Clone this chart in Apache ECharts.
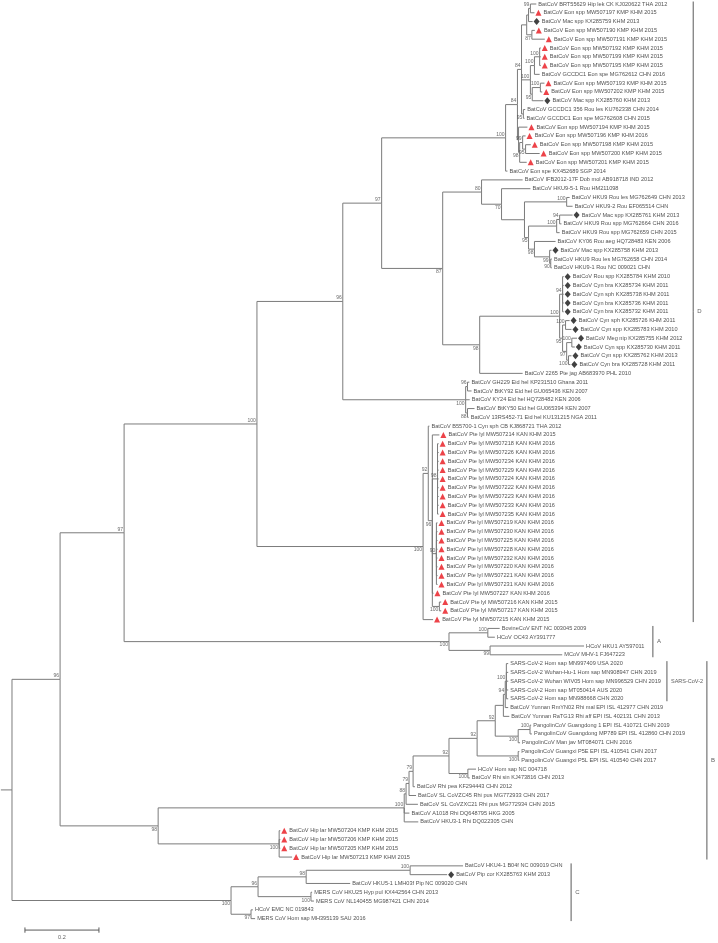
<!DOCTYPE html>
<html>
<head>
<meta charset="utf-8">
<script src="https://cdn.jsdelivr.net/npm/echarts@6/dist/echarts.min.js"></script>
<style>
html, body { margin: 0; padding: 0; background: #fff; }
#main { width: 718px; height: 943px; }
</style>
</head>
<body>
<div id="main"></div>
<script>
// tip labels, top to bottom
const tipNames = [
    'BatCoV BRT55629 Hip lek CK KJ020622 THA 2012',
    'BatCoV Eon spp MW507197 KMP KHM 2015',
    'BatCoV Mac spp KX285759 KHM 2013',
    'BatCoV Eon spp MW507190 KMP KHM 2015',
    'BatCoV Eon spp MW507191 KMP KHM 2015',
    'BatCoV Eon spp MW507192 KMP KHM 2015',
    'BatCoV Eon spp MW507199 KMP KHM 2015',
    'BatCoV Eon spp MW507195 KMP KHM 2015',
    'BatCoV GCCDC1 Eon spe MG762612 CHN 2016',
    'BatCoV Eon spp MW507193 KMP KHM 2015',
    'BatCoV Eon spp MW507202 KMP KHM 2015',
    'BatCoV Mac spp KX285760 KHM 2013',
    'BatCoV GCCDC1 356 Rou les KU762338 CHN 2014',
    'BatCoV GCCDC1 Eon spe MG762608 CHN 2015',
    'BatCoV Eon spp MW507194 KMP KHM 2015',
    'BatCoV Eon spp MW507196 KMP KHM 2016',
    'BatCoV Eon spp MW507198 KMP KHM 2015',
    'BatCoV Eon spp MW507200 KMP KHM 2015',
    'BatCoV Eon spp MW507201 KMP KHM 2015',
    'BatCoV Eon spe KX452689 SGP 2014',
    'BatCoV IFB2012-17F Dob mol AB918718 IND 2012',
    'BatCoV HKU9-5-1 Rou HM211098',
    'BatCoV HKU9 Rou les MG762649 CHN 2013',
    'BatCoV HKU9-2 Rou EF065514 CHN',
    'BatCoV Mac spp KX285761 KHM 2013',
    'BatCoV HKU9 Rou spp MG762664 CHN 2016',
    'BatCoV HKU9 Rou spp MG762659 CHN 2015',
    'BatCoV KY06 Rou aeg HQ728483 KEN 2006',
    'BatCoV Mac spp KX285758 KHM 2013',
    'BatCoV HKU9 Rou les MG762658 CHN 2014',
    'BatCoV HKU9-1 Rou NC 009021 CHN',
    'BatCoV Rou spp KX285784 KHM 2010',
    'BatCoV Cyn bra KX285734 KHM 2011',
    'BatCoV Cyn sph KX285738 KHM 2011',
    'BatCoV Cyn bra KX285736 KHM 2011',
    'BatCoV Cyn bra KX285732 KHM 2011',
    'BatCoV Cyn sph KX285726 KHM 2011',
    'BatCoV Cyn spp KX285783 KHM 2010',
    'BatCoV Meg nip KX285755 KHM 2012',
    'BatCoV Cyn spp KX285730 KHM 2011',
    'BatCoV Cyn spp KX285762 KHM 2013',
    'BatCoV Cyn bra KX285728 KHM 2011',
    'BatCoV 2265 Pte jag AB683970 PHL 2010',
    'BatCoV GH229 Eid hel KP231510 Ghana 2011',
    'BatCoV BtKY92 Eid hel GU065436 KEN 2007',
    'BatCoV KY24 Eid hel HQ728482 KEN 2006',
    'BatCoV BtKY50 Eid hel GU065394 KEN 2007',
    'BatCoV 13RS452-71 Eid hel KU131215 NGA 2011',
    'BatCoV B55700-1 Cyn sph CB KJ868721 THA 2012',
    'BatCoV Pte lyl MW507214 KAN KHM 2015',
    'BatCoV Pte lyl MW507218 KAN KHM 2016',
    'BatCoV Pte lyl MW507226 KAN KHM 2016',
    'BatCoV Pte lyl MW507234 KAN KHM 2016',
    'BatCoV Pte lyl MW507229 KAN KHM 2016',
    'BatCoV Pte lyl MW507224 KAN KHM 2016',
    'BatCoV Pte lyl MW507222 KAN KHM 2016',
    'BatCoV Pte lyl MW507223 KAN KHM 2016',
    'BatCoV Pte lyl MW507233 KAN KHM 2016',
    'BatCoV Pte lyl MW507235 KAN KHM 2016',
    'BatCoV Pte lyl MW507219 KAN KHM 2016',
    'BatCoV Pte lyl MW507230 KAN KHM 2016',
    'BatCoV Pte lyl MW507225 KAN KHM 2016',
    'BatCoV Pte lyl MW507228 KAN KHM 2016',
    'BatCoV Pte lyl MW507232 KAN KHM 2016',
    'BatCoV Pte lyl MW507220 KAN KHM 2016',
    'BatCoV Pte lyl MW507221 KAN KHM 2016',
    'BatCoV Pte lyl MW507231 KAN KHM 2016',
    'BatCoV Pte lyl MW507227 KAN KHM 2016',
    'BatCoV Pte lyl MW507216 KAN KHM 2015',
    'BatCoV Pte lyl MW507217 KAN KHM 2015',
    'BatCoV Pte lyl MW507215 KAN KHM 2015',
    'BovineCoV ENT NC 003045 2009',
    'HCoV OC43 AY391777',
    'HCoV HKU1 AY597011',
    'MCoV MHV-1 FJ647223',
    'SARS-CoV-2 Hom sap MN997409 USA 2020',
    'SARS-CoV-2 Wuhan-Hu-1 Hom sap MN908947 CHN 2019',
    'SARS-CoV-2 Wuhan WIV05 Hom sap MN996529 CHN 2019',
    'SARS-CoV-2 Hom sap MT050414 AUS 2020',
    'SARS-CoV-2 Hom sap MN988668 CHN 2020',
    'BatCoV Yunnan RmYN02 Rhi mal EPI ISL 412977 CHN 2019',
    'BatCoV Yunnan RaTG13 Rhi aff EPI ISL 402131 CHN 2013',
    'PangolinCoV Guangdong 1 EPI ISL 410721 CHN 2019',
    'PangolinCoV Guangdong MP789 EPI ISL 412860 CHN 2019',
    'PangolinCoV Man jav MT084071 CHN 2016',
    'PangolinCoV Guangxi P5E EPI ISL 410541 CHN 2017',
    'PangolinCoV Guangxi P5L EPI ISL 410540 CHN 2017',
    'HCoV Hom sap NC 004718',
    'BatCoV Rhi sin KJ473816 CHN 2013',
    'BatCoV Rhi pea KF294443 CHN 2012',
    'BatCoV SL CoVZC45 Rhi pus MG772933 CHN 2017',
    'BatCoV SL CoVZXC21 Rhi pus MG772934 CHN 2015',
    'BatCoV A1018 Rhi DQ648795 HKG 2005',
    'BatCoV HKU3-1 Rhi DQ022305 CHN',
    'BatCoV Hip lar MW507204 KMP KHM 2015',
    'BatCoV Hip lar MW507206 KMP KHM 2015',
    'BatCoV Hip lar MW507205 KMP KHM 2015',
    'BatCoV Hip lar MW507213 KMP KHM 2015',
    'BatCoV HKU4-1 B04f NC 009019 CHN',
    'BatCoV Pip cor KX285763 KHM 2013',
    'BatCoV HKU5-1 LMH03f Pip NC 009020 CHN',
    'MERS CoV HKU25 Hyp pul KX442564 CHN 2013',
    'MERS CoV NL140455 MG987421 CHN 2014',
    'HCoV EMC NC 019843',
    'MERS CoV Hom sap MH395139 SAU 2016'
];

// tips marked in the figure (1-based tip numbers)
const triangleTips = [2, 4, 5, 6, 7, 8, 10, 11, 15, 16, 17, 18, 19,
    50, 51, 52, 53, 54, 55, 56, 57, 58, 59, 60, 61, 62, 63, 64, 65, 66, 67, 68, 69, 70, 71,
    95, 96, 97, 98];
const diamondTips = [3, 12, 25, 29, 32, 33, 34, 35, 36, 37, 38, 39, 40, 41, 42, 100];

// subtrees in newick (tip numbers, bootstrap as node label, branch length in subst./site)
const eonClade =
    '(((' +
    '(((1:0.016,2:0.011)99:0.005,3:0.011):0.005,(4:0.008,5:0.035)87:0.014):0.014,' +
    '(((6:0.003,7:0.003,8:0.003)100:0.014,9:0.014)100:0.011,((10:0.011,11:0.005)100:0.022,12:0.030)95:0.005)100:0.024,' +
    '(13:0.005,14:0.003)95:0.005' +
    ')84:0.011,' +
    '(15:0.024,((16:0.008,(17:0.014,18:0.038)95:0.008)99:0.008,19:0.019)98:0.003):0.003' +
    ')84:0.032,20:0.005)100';
const hkuClade =
    '((21:0.111,(22:0.078,((23:0.008,24:0.016)100:0.114,(((25:0.035,26:0.005)94:0.008,27:0.008)100:0.076,' +
    '(28:0.057,(29:0.005,(30:0.003,31:0.003)90:0.003)99:0.041)98:0.016)95:0.011):0.062)70:0.054)80:0.105,' +
    '(((32:0.003,33:0.003,34:0.003,35:0.003,36:0.003)94:0.008,((37:0.011,38:0.016)100:0.008,' +
    '((39:0.014,40:0.008)100:0.014,(41:0.008,42:0.005)100:0.005)97:0.011)95:0.008)100:0.216,43:0.116)98:0.100)87';
const eidClade = '((44:0.005,45:0.011)96:0.005,46:0.011,(47:0.019,48:0.003)88:0.005)100';
const pteClade =
    '((49:0.003,(50:0.019,' +
    '(51:0.003,52:0.003,53:0.003,54:0.003,55:0.003,56:0.003,57:0.003,58:0.003,59:0.003)98:0.014,' +
    '(60:0.003,61:0.003,62:0.003,63:0.003,64:0.003,65:0.003,66:0.003,67:0.003)90:0.011,' +
    '68:0.003,(69:0.005,70:0.005)100:0.019)96:0.011)92:0.014,71:0.027)100';
const cladeA = '((72:0.032,73:0.019)100:0.105,(74:0.254,75:0.195)99:0.111)100';
const cladeB =
    '(((((((((((76:0.005,77:0.005,78:0.005,79:0.005,80:0.005)100:0.003,81:0.008)94:0.005,82:0.016):0.022,' +
    '((83:0.003,84:0.005)100:0.032,85:0.005)100:0.062)92:0.049,(86:0.003,87:0.003)100:0.111)92:0.076,' +
    '(88:0.022,89:0.005)100:0.051)92:0.097,90:0.005)79:0.011,91:0.019)79:0.008,92:0.032)88:0.005,' +
    '93:0.014,94:0.038)100:0.665,(95:0.003,96:0.003,97:0.003,98:0.035)100:0.327)98';
const cladeC =
    '((((99:0.143,100:0.100)100:0.281,101:0.119)98:0.130,(102:0.003,103:0.008)100:0.143)96:0.073,' +
    '(104:0.005,105:0.011)97:0.054)100';

const treeNewick = '((((((' + eonClade + ':0.335,' + hkuClade + ':0.165)97:0.105,' + eidClade + ':0.332)96:0.232,' +
    pteClade + ':0.449)100:0.359,' + cladeA + ':0.878)97:0.173,' + cladeB + ':0.265)96:0.130,' + cladeC + ':0.592);';

// clade brackets on the right
const cladeNames = ['D', 'A', 'SARS-CoV-2', 'B', 'C'];
const cladeFirstTip = [1, 72, 76, 76, 99];
const cladeLastTip = [71, 75, 80, 98, 105];
const cladeBarX = [1.841, 1.732, 1.770, 1.878, 1.511];

const scaleBarStart = 0.035;
const scaleBarLength = 0.2;

function parseNewick(s) {
    s = s.replace(/\s+/g, '');
    let i = 0;
    function readNode() {
        const node = { children: [], label: '', len: 0 };
        if (s[i] === '(') {
            i++;
            node.children.push(readNode());
            while (s[i] === ',') {
                i++;
                node.children.push(readNode());
            }
            i++; // ')'
        }
        let tok = '';
        while (i < s.length && ':,);'.indexOf(s[i]) < 0) tok += s[i++];
        node.label = tok;
        if (s[i] === ':') {
            i++;
            let num = '';
            while (i < s.length && ',);'.indexOf(s[i]) < 0) num += s[i++];
            node.len = parseFloat(num);
        }
        return node;
    }
    return readNode();
}

const tree = parseNewick(treeNewick);

function place(node, depth) {
    node.x = depth;
    if (!node.children.length) {
        node.y = Number(node.label) - 1;
        return;
    }
    node.children.forEach(c => place(c, depth + c.len));
    node.y = (node.children[0].y + node.children[node.children.length - 1].y) / 2;
}
place(tree, 0);

const branchData = [{ coords: [[-0.03, tree.y], [0, tree.y]] }];
const bootAbove = [];
const bootBelow = [];
const tipData = [];
function walk(node) {
    node.children.forEach((c, k) => {
        branchData.push({ coords: [[node.x, node.y], [node.x, c.y], [c.x, c.y]] });
        if (c.children.length) {
            if (c.label) {
                const last = k === node.children.length - 1;
                (last ? bootBelow : bootAbove).push({ value: [c.x, c.y], name: c.label });
            }
            walk(c);
        } else {
            const n = Number(c.label);
            const marked = triangleTips.includes(n) || diamondTips.includes(n);
            tipData.push({ value: [c.x, c.y], name: tipNames[n - 1], label: { distance: marked ? 9 : 2 } });
        }
    });
}
walk(tree);

const tipX = {};
tipData.forEach(d => { tipX[Math.round(d.value[1]) + 1] = d.value[0]; });

const cladeLines = [];
const cladeLabels = [];
cladeNames.forEach((name, i) => {
    const y0 = cladeFirstTip[i] - 1 - 0.28;
    const y1 = cladeLastTip[i] - 1 + 0.28;
    cladeLines.push({ coords: [[cladeBarX[i], y0], [cladeBarX[i], y1]] });
    cladeLabels.push({
        value: [cladeBarX[i], (y0 + y1) / 2], name: name,
        label: name.length > 1 ? { fontSize: 5.5, distance: 4 } : {}
    });
});

const scaleY = 105.3;
const scaleLines = [
    { coords: [[scaleBarStart, scaleY], [scaleBarStart + scaleBarLength, scaleY]] },
    { coords: [[scaleBarStart, scaleY - 0.3], [scaleBarStart, scaleY + 0.3]] },
    { coords: [[scaleBarStart + scaleBarLength, scaleY - 0.3], [scaleBarStart + scaleBarLength, scaleY + 0.3]] }
];

const font = 'Liberation Sans';
const chart = echarts.init(document.getElementById('main'));
chart.setOption({
    animation: false,
    backgroundColor: '#fff',
    grid: { left: 0, right: 0, top: 0, bottom: 0 },
    xAxis: { type: 'value', min: -0.0324, max: 1.908, show: false },
    yAxis: { type: 'value', min: -0.455, max: 106.77, inverse: true, show: false },
    series: [
        {
            type: 'lines', coordinateSystem: 'cartesian2d', polyline: true,
            data: branchData, silent: true,
            lineStyle: { color: '#7b7b7b', width: 1, opacity: 1 }
        },
        {
            type: 'lines', coordinateSystem: 'cartesian2d', polyline: true,
            data: cladeLines.concat(scaleLines), silent: true,
            lineStyle: { color: '#5a5a5a', width: 1, opacity: 1 }
        },
        {
            type: 'scatter', symbol: 'triangle', symbolSize: [6, 6], symbolOffset: [4, 0],
            itemStyle: { color: '#e8141c' }, silent: true,
            data: triangleTips.map(n => [tipX[n], n - 1])
        },
        {
            type: 'scatter', symbol: 'diamond', symbolSize: [6, 7], symbolOffset: [4, 0],
            itemStyle: { color: '#111' }, silent: true,
            data: diamondTips.map(n => [tipX[n], n - 1])
        },
        {
            type: 'scatter', symbolSize: 0.1, itemStyle: { color: 'transparent' }, silent: true,
            data: tipData,
            label: {
                show: true, position: 'right', formatter: '{b}',
                fontFamily: font, fontSize: 5.6, color: '#1e1e1e'
            }
        },
        {
            type: 'scatter', symbolSize: 0.1, itemStyle: { color: 'transparent' }, silent: true,
            data: bootAbove,
            label: {
                show: true, position: 'left', distance: 1, offset: [0, -3.5], formatter: '{b}',
                fontFamily: font, fontSize: 5, color: '#444'
            }
        },
        {
            type: 'scatter', symbolSize: 0.1, itemStyle: { color: 'transparent' }, silent: true,
            data: bootBelow,
            label: {
                show: true, position: 'left', distance: 1, offset: [0, 3.5], formatter: '{b}',
                fontFamily: font, fontSize: 5, color: '#444'
            }
        },
        {
            type: 'scatter', symbolSize: 0.1, itemStyle: { color: 'transparent' }, silent: true,
            data: cladeLabels,
            label: {
                show: true, position: 'right', distance: 4, formatter: '{b}',
                fontFamily: font, fontSize: 6, color: '#333'
            }
        },
        {
            type: 'scatter', symbolSize: 0.1, itemStyle: { color: 'transparent' }, silent: true,
            data: [{ value: [scaleBarStart + scaleBarLength / 2, scaleY], name: String(scaleBarLength) }],
            label: {
                show: true, position: 'bottom', distance: 4, formatter: '{b}',
                fontFamily: font, fontSize: 5.5, color: '#333'
            }
        }
    ]
});
</script>
</body>
</html>
